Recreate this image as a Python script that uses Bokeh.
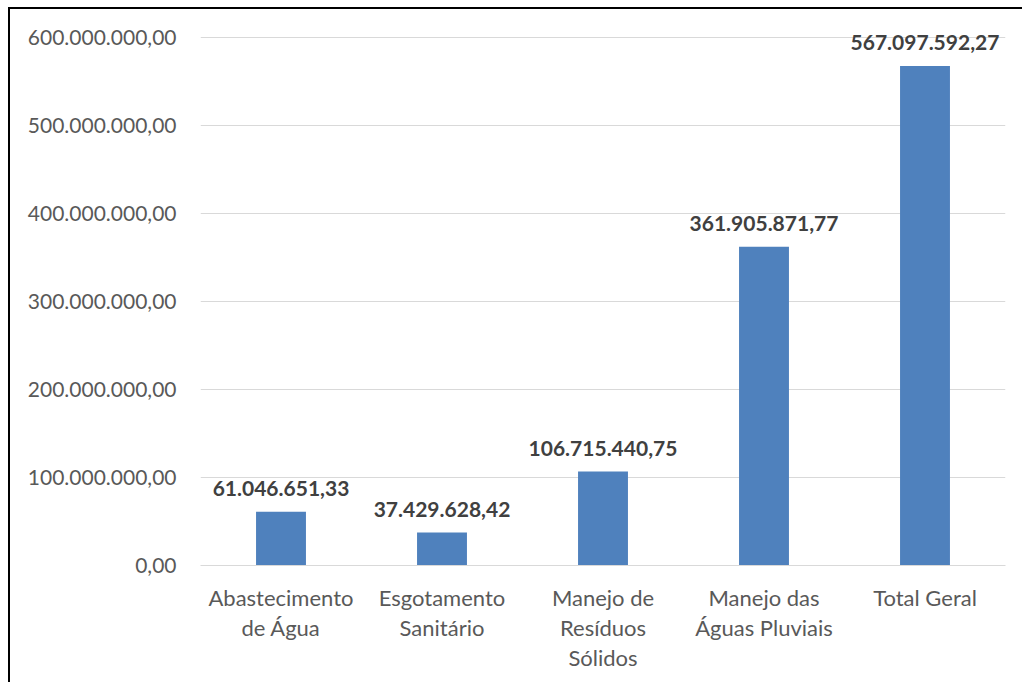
from bokeh.plotting import figure
from bokeh.models import ColumnDataSource, FixedTicker, LinearAxis
from bokeh.core.properties import value
from bokeh.embed import file_html
from bokeh.resources import INLINE

categories = ["Abastecimento de Água", "Esgotamento Sanitário", "Manejo de Resíduos Sólidos",
              "Manejo das Águas Pluviais", "Total Geral"]
label_line1 = ["Abastecimento", "Esgotamento", "Manejo de", "Manejo das", "Total Geral"]
label_line2 = ["de Água", "Sanitário", "Resíduos", "Águas Pluviais", ""]
label_line3 = ["", "", "Sólidos", "", ""]
values = [61046651.33, 37429628.42, 106715440.75, 361905871.77, 567097592.27]
y_ticks = [0, 100000000, 200000000, 300000000, 400000000, 500000000, 600000000]


def br(v):
    s = f"{v:,.2f}"
    return s.replace(",", "X").replace(".", ",").replace("X", ".")


idx = list(range(len(categories)))
src = ColumnDataSource(dict(x=idx, cat=categories, val=values, lab=[br(v) for v in values]))

FONT = "Lato"
p = figure(x_range=(-0.5, len(categories) - 0.5), y_range=(0, 620000000),
           frame_width=805, frame_height=546,
           output_backend="svg", toolbar_location=None,
           min_border_left=190, min_border_right=17, min_border_top=10, min_border_bottom=125)
p.styles = {"margin-left": "8px", "margin-top": "7px",
            "border-left": "2px solid black", "border-top": "2px solid black"}
p.outline_line_color = None
p.background_fill_color = "white"
p.border_fill_color = "white"

p.vbar(x="x", top="val", width=0.31, source=src, fill_color="#4F81BD", line_color=None)
p.text(x="x", y="val", text="lab", source=src, text_align="center", text_baseline="bottom",
       y_offset=-16, text_font=value(FONT), text_font_style="bold", text_font_size="21px",
       text_color="#404040")

p.xgrid.grid_line_color = None
p.ygrid.grid_line_color = "#D9D9D9"
p.ygrid.grid_line_width = 1

p.yaxis.ticker = FixedTicker(ticks=y_ticks)
p.yaxis.major_label_overrides = {t: br(t) for t in y_ticks}
p.yaxis.axis_line_color = None
p.yaxis.major_tick_line_color = None
p.yaxis.minor_tick_line_color = None
p.yaxis.major_label_standoff = 18
p.yaxis.major_label_text_font = FONT
p.yaxis.major_label_text_font_size = "21px"
p.yaxis.major_label_text_color = "#595959"


def style_x(ax, lines, standoff, line_color):
    ax.ticker = FixedTicker(ticks=idx)
    ax.major_label_overrides = {i: t for i, t in zip(idx, lines)}
    ax.axis_line_color = line_color
    ax.major_tick_line_color = None
    ax.minor_tick_line_color = None
    ax.major_label_standoff = standoff
    ax.major_label_text_font = FONT
    ax.major_label_text_font_size = "22px"
    ax.major_label_text_color = "#595959"


style_x(p.xaxis[0], label_line1, 12, "#D9D9D9")
ax2 = LinearAxis()
style_x(ax2, label_line2, -6, None)
p.add_layout(ax2, "below")
ax3 = LinearAxis()
style_x(ax3, label_line3, -6, None)
p.add_layout(ax3, "below")

open("out.html", "w").write(file_html(p, INLINE))
